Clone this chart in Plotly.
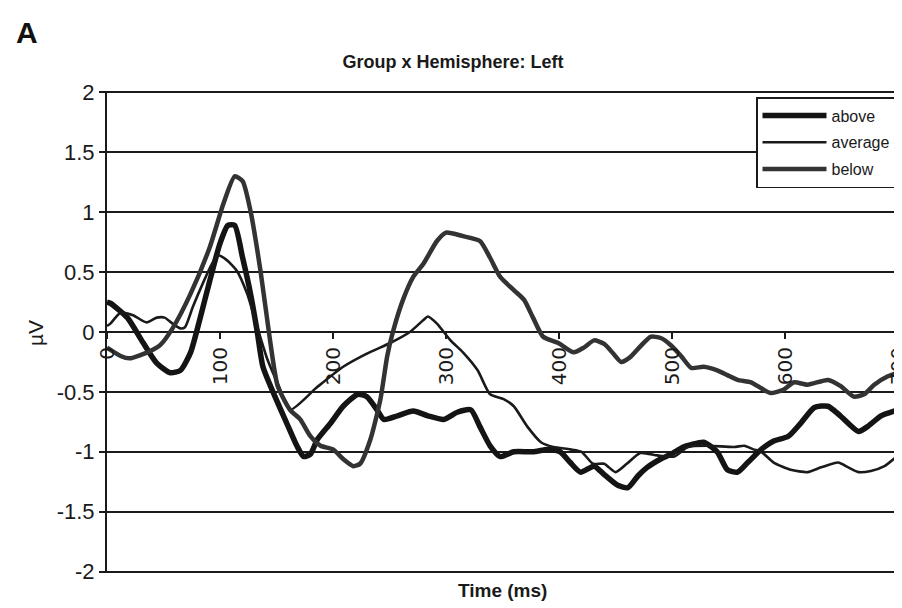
import plotly.graph_objects as go

# ---- data ----
t_above = [0, 3, 18, 32, 44, 56, 65, 74, 82, 91, 100, 107, 113, 120, 127, 133, 138, 151, 159, 168,
           174, 180, 186, 198, 209, 222, 230, 239, 245, 257, 271, 284, 298, 310, 322, 330, 339, 348,
           360, 377, 390, 401, 410, 419, 431, 440, 452, 461, 470, 478, 490, 499, 510, 517, 528, 540,
           549, 558, 567, 579, 590, 603, 614, 626, 638, 649, 665, 673, 685, 700]
v_above = [0.25, 0.24, 0.12, -0.09, -0.26, -0.34, -0.32, -0.17, 0.10, 0.43, 0.74, 0.89, 0.89, 0.62,
           0.32, 0.00, -0.29, -0.59, -0.76, -0.95, -1.04, -1.02, -0.90, -0.76, -0.62, -0.52, -0.54,
           -0.65, -0.73, -0.70, -0.66, -0.70, -0.73, -0.67, -0.65, -0.79, -0.95, -1.04, -1.00, -1.00,
           -0.98, -1.00, -1.09, -1.17, -1.12, -1.19, -1.28, -1.30, -1.20, -1.13, -1.06, -1.02, -0.96,
           -0.94, -0.92, -1.00, -1.15, -1.17, -1.09, -0.98, -0.91, -0.87, -0.76, -0.63, -0.62, -0.70,
           -0.83, -0.79, -0.70, -0.65]

t_average = [0, 3, 12, 23, 35, 44, 51, 58, 65, 69, 76, 85, 93, 98, 106, 115, 124, 133, 142, 152,
             162, 186, 209, 230, 251, 268, 280, 284, 292, 304, 315, 328, 339, 351, 360, 372, 384,
             395, 410, 420, 430, 440, 450, 460, 472, 487, 502, 514, 532, 555, 564, 572, 579, 590,
             605, 620, 632, 647, 656, 665, 676, 688, 700]
v_average = [0.05, 0.07, 0.16, 0.14, 0.08, 0.12, 0.12, 0.07, 0.03, 0.04, 0.21, 0.41, 0.57, 0.64,
             0.60, 0.51, 0.32, 0.04, -0.23, -0.45, -0.65, -0.46, -0.29, -0.18, -0.09, 0.00, 0.10,
             0.13, 0.07, -0.07, -0.17, -0.32, -0.52, -0.56, -0.62, -0.79, -0.92, -0.96, -0.98,
             -1.00, -1.10, -1.10, -1.17, -1.10, -1.01, -1.03, -1.04, -0.96, -0.95, -0.96, -0.95,
             -0.98, -1.00, -1.09, -1.15, -1.17, -1.13, -1.09, -1.13, -1.17, -1.16, -1.12, -1.03]

t_below = [0, 12, 20, 38, 47, 58, 74, 91, 103, 113, 120, 127, 136, 144, 151, 162, 171, 180, 189,
           200, 209, 218, 224, 233, 242, 248, 253, 262, 271, 280, 292, 300, 315, 330, 339, 348,
           360, 369, 377, 386, 399, 413, 422, 431, 440, 448, 455, 463, 472, 481, 490, 499, 508,
           517, 528, 540, 549, 558, 570, 579, 587, 599, 608, 620, 638, 649, 661, 670, 679, 691, 700]
v_below = [-0.13, -0.20, -0.22, -0.16, -0.11, 0.03, 0.32, 0.71, 1.07, 1.30, 1.26, 1.01, 0.50,
           -0.05, -0.45, -0.65, -0.73, -0.87, -0.95, -0.98, -1.06, -1.12, -1.10, -0.90, -0.56,
           -0.20, 0.00, 0.27, 0.46, 0.57, 0.76, 0.83, 0.80, 0.76, 0.62, 0.46, 0.35, 0.27, 0.12,
           -0.04, -0.09, -0.17, -0.13, -0.07, -0.10, -0.18, -0.25, -0.21, -0.12, -0.04, -0.05,
           -0.11, -0.20, -0.30, -0.29, -0.32, -0.36, -0.40, -0.42, -0.47, -0.51, -0.48, -0.42,
           -0.44, -0.40, -0.45, -0.54, -0.52, -0.44, -0.37, -0.34]

x_ticks = [0, 100, 200, 300, 400, 500, 600, 700]
y_ticks = [2, 1.5, 1, 0.5, 0, -0.5, -1, -1.5, -2]
y_tick_text = ["2", "1.5", "1", "0.5", "0", "-0.5", "-1", "-1.5", "-2"]

series = [
    ("above", t_above, v_above, "#141414", 5.5),
    ("average", t_average, v_average, "#1a1a1a", 2.6),
    ("below", t_below, v_below, "#333333", 4.5),
]

fig = go.Figure()
for name, t, v, col, w in series:
    fig.add_trace(go.Scatter(
        x=t, y=v, name=name, mode="lines", legendgroup=name,
        line=dict(color=col, width=w, shape="spline", smoothing=0.6),
    ))

FONT = "Liberation Sans, Arial, sans-serif"
# the page body adds an 8px offset; margins compensate so the plot area sits at
# x 107..898 and y 91..573 of the window
OFF = 8
W, H = 902, 608
L, R, T, B = 107 - OFF, (W + OFF) - 898, 91 - OFF, (H + OFF) - 573

fig.update_layout(
    template="none",
    width=W, height=H,
    margin=dict(l=L, r=R, t=T, b=B, autoexpand=False),
    paper_bgcolor="white", plot_bgcolor="white",
    font=dict(family=FONT, color="#1a1a1a"),
    title=dict(text="<b>Group x Hemisphere: Left</b>", x=(453 - OFF) / W, xref="container",
               y=1 - (62 - OFF) / H, yref="container", xanchor="center", yanchor="middle",
               font=dict(family=FONT, size=18, color="#1a1a1a")),
    showlegend=True,
    legend=dict(x=(756 - 107) / 791, y=(573 - 97) / 482, xanchor="left", yanchor="top",
                bgcolor="white", bordercolor="#1a1a1a", borderwidth=1.5,
                font=dict(family=FONT, size=16, color="#1a1a1a"),
                traceorder="grouped", tracegroupgap=3, itemwidth=64),
    xaxis=dict(range=[0, 700], anchor="free", position=0.5, domain=[0, 1],
               tickmode="array", tickvals=x_ticks, ticktext=[str(v) for v in x_ticks],
               ticks="outside", ticklen=6, tickwidth=1.5, tickcolor="#1a1a1a",
               tickangle=-90, showgrid=False, zeroline=False, showline=False,
               tickfont=dict(family="DejaVu Sans, Verdana, sans-serif", size=20, color="#1a1a1a"),
               automargin=False, fixedrange=True),
    yaxis=dict(range=[-2.012, 2.012], tickmode="array", tickvals=y_ticks, ticktext=y_tick_text,
               ticks="outside", ticklen=6, tickwidth=1.5, tickcolor="#1a1a1a",
               showgrid=True, gridcolor="#1a1a1a", gridwidth=2,
               zeroline=True, zerolinecolor="#1a1a1a", zerolinewidth=2,
               showline=True, linecolor="#1a1a1a", linewidth=2, mirror=True,
               tickfont=dict(family=FONT, size=22, color="#1a1a1a"),
               automargin=False, fixedrange=True),
    annotations=[
        dict(text="<b>A</b>", xref="paper", yref="paper", x=(27 - 107) / 791, y=(573 - 33) / 482,
             showarrow=False, xanchor="center", yanchor="middle",
             font=dict(family=FONT, size=30, color="#111")),
        dict(text="µV", xref="paper", yref="paper", x=(35 - 107) / 791, y=(573 - 333) / 482,
             showarrow=False, textangle=-90, xanchor="center", yanchor="middle",
             font=dict(family=FONT, size=21, color="#1a1a1a")),
        dict(text="<b>Time (ms)</b>", xref="paper", yref="paper", x=0.5, y=(573 - 590) / 482,
             showarrow=False, xanchor="center", yanchor="middle",
             font=dict(family=FONT, size=19, color="#1a1a1a")),
    ],
)

fig.write_html("out.html")
